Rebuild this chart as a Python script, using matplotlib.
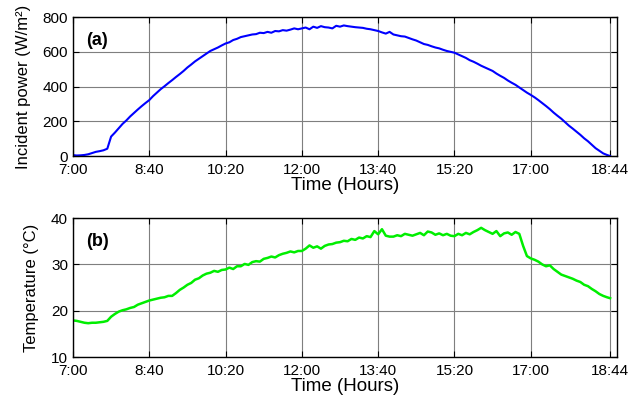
import numpy as np
import matplotlib.pyplot as plt

plt.rcParams['font.family'] = ['Liberation Sans', 'DejaVu Sans']

# time in minutes after 7:00, sampled every 5 min, last sample at 18:44
minutes = list(range(0, 705, 5)) + [704]

# incident solar power (W/m2)
power = [5, 3, 4, 6, 10, 17, 24, 28, 33, 42,
         112, 135, 160, 185, 205, 228, 248, 268, 287, 305,
         322, 345, 365, 385, 402, 420, 437, 455, 472, 490,
         510, 527, 545, 560, 575, 590, 605, 615, 625, 637,
         648, 655, 668, 675, 685, 690, 695, 700, 702, 710,
         708, 715, 710, 720, 718, 725, 722, 728, 735, 730,
         735, 740, 730, 745, 738, 748, 742, 740, 735, 750,
         745, 752, 748, 745, 742, 740, 738, 733, 730, 725,
         720, 712, 705, 715, 700, 695, 690, 688, 680, 672,
         665, 655, 645, 640, 632, 625, 620, 612, 605, 600,
         595, 585, 575, 565, 552, 543, 532, 520, 510, 500,
         490, 475, 462, 450, 435, 422, 410, 395, 380, 365,
         352, 338, 322, 305, 288, 270, 250, 232, 215, 195,
         175, 158, 140, 122, 102, 85, 65, 45, 30, 15,
         6, 0]

# module temperature (degC)
temperature = [17.9, 17.8, 17.6, 17.4, 17.3, 17.4, 17.4, 17.5, 17.6, 17.8,
               18.7, 19.3, 19.8, 20.1, 20.3, 20.6, 20.8, 21.3, 21.6, 21.9,
               22.2, 22.4, 22.6, 22.8, 22.9, 23.2, 23.2, 23.8, 24.5, 25.0,
               25.6, 26.0, 26.7, 27.0, 27.6, 28.0, 28.2, 28.6, 28.4, 28.8,
               28.9, 29.3, 29.0, 29.6, 29.6, 30.1, 29.9, 30.5, 30.7, 30.6,
               31.2, 31.4, 31.7, 31.5, 32.0, 32.3, 32.5, 32.8, 32.6, 32.9,
               32.9, 33.4, 34.1, 33.6, 33.9, 33.4, 34.0, 34.3, 34.4, 34.7,
               34.8, 35.1, 35.0, 35.5, 35.3, 35.8, 35.6, 36.1, 35.9, 37.2,
               36.5, 37.6, 36.2, 36.0, 36.0, 36.3, 36.1, 36.6, 36.4, 36.2,
               36.5, 36.8, 36.3, 37.1, 36.9, 36.4, 36.7, 36.3, 36.6, 36.2,
               36.1, 36.6, 36.3, 36.8, 36.5, 37.0, 37.4, 37.9, 37.4, 37.0,
               36.6, 37.2, 36.1, 36.7, 36.9, 36.4, 37.0, 36.6, 34.0, 31.8,
               31.3, 31.0, 30.6, 30.0, 29.6, 29.8, 29.0, 28.4, 27.8, 27.5,
               27.2, 26.9, 26.5, 26.2, 25.6, 25.3, 24.7, 24.2, 23.6, 23.2,
               22.9, 22.7]

tick_minutes = [0, 100, 200, 300, 400, 500, 600, 704]
tick_labels = ['7:00', '8:40', '10:20', '12:00', '13:40', '15:20', '17:00', '18:44']

fig = plt.figure(figsize=(6.4, 3.98), dpi=100)
ax1 = fig.add_axes([0.114, 0.608, 0.850, 0.349])
ax2 = fig.add_axes([0.114, 0.103, 0.850, 0.349])

ax1.plot(minutes, power, color='#0000ff', linewidth=1.5)
ax1.set_ylim(0, 800)
ax1.set_yticks([0, 200, 400, 600, 800])
ax1.set_ylabel('Incident power (W/m²)', fontsize=12)
ax1.yaxis.set_label_coords(-0.078, 0.5)
ax1.text(0.025, 0.8, '(a)', transform=ax1.transAxes, fontsize=13, fontweight='bold')

ax2.plot(minutes, temperature, color='#00ee00', linewidth=1.8)
ax2.set_ylim(10, 40)
ax2.set_yticks([10, 20, 30, 40])
ax2.set_ylabel('Temperature (°C)', fontsize=12)
ax2.yaxis.set_label_coords(-0.063, 0.5)
ax2.text(0.025, 0.8, '(b)', transform=ax2.transAxes, fontsize=13, fontweight='bold')

for ax in (ax1, ax2):
    ax.set_xlim(0, 713)
    ax.set_xticks(tick_minutes)
    ax.set_xticklabels(tick_labels)
    ax.set_xlabel('Time (Hours)', fontsize=13.5, labelpad=0)
    ax.tick_params(direction='in', top=True, right=True, labelsize=11, length=4)
    ax.tick_params(axis='x', pad=5)
    ax.tick_params(axis='y', pad=3.5)
    ax.grid(True, color='#7f7f7f', linewidth=0.8)
    for s in ax.spines.values():
        s.set_linewidth(1.0)

fig.savefig('out.png', dpi=100)
